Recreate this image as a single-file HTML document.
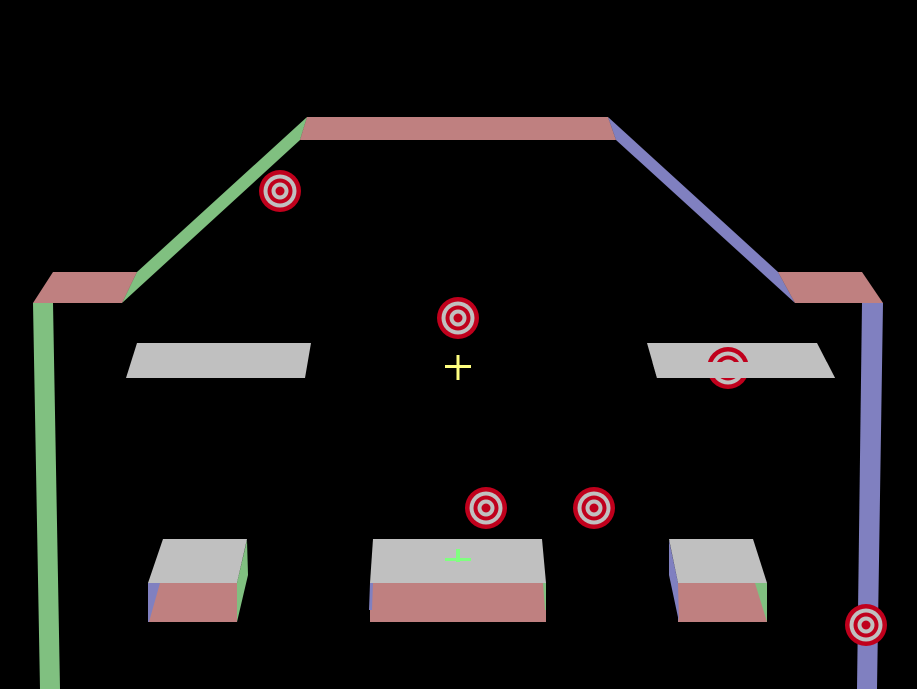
<!DOCTYPE html>
<html><head><style>html,body{margin:0;padding:0;background:#000;}svg{display:block}</style></head>
<body>
<svg width="917" height="689" viewBox="0 0 917 689" xmlns="http://www.w3.org/2000/svg">
<defs>
<g id="t">
<circle r="21" fill="#c0001c"/><circle r="16.5" fill="#c0c0c0"/><circle r="12.5" fill="#c0001c"/><circle r="8.5" fill="#c0c0c0"/><circle r="4.5" fill="#c0001c"/>
</g>
</defs>
<rect width="917" height="689" fill="#000"/>
<!-- frame -->
<polygon points="307,117 300,140 122,303 137,272" fill="#80c080"/>
<polygon points="307,117 608,117 616,140 300,140" fill="#bf8080"/>
<polygon points="608,117 616,140 795,303 778,272" fill="#8080c0"/>
<polygon points="53,272 137,272 122,303 33,303" fill="#bf8080"/>
<polygon points="778,272 862,272 883,303 795,303" fill="#bf8080"/>
<polygon points="33,303 53,303 60,689 40,689" fill="#80c080"/>
<polygon points="862,303 883,303 877,689 857,689" fill="#8080c0"/>
<!-- platforms -->
<polygon points="137,343 311,343 305,378 126,378" fill="#c0c0c0"/>
<polygon points="647,343 817,343 835,378 657,378" fill="#c0c0c0"/>
<!-- targets -->
<use href="#t" x="280" y="191"/>
<use href="#t" x="458" y="318"/>
<use href="#t" x="486" y="508"/>
<use href="#t" x="594" y="508"/>
<use href="#t" x="728" y="368"/>
<polygon points="652.4,362 826.8,362 835,378 657,378" fill="#c0c0c0"/>
<use href="#t" x="866" y="625"/>
<!-- crosshair -->
<rect x="445" y="365" width="26" height="3" fill="#ffff80"/>
<rect x="456.5" y="355" width="3" height="25" fill="#ffff80"/>
<!-- left box -->
<polygon points="163,539 247,539 237,583 148,583" fill="#c0c0c0"/>
<rect x="148" y="583" width="89" height="39" fill="#bf8080"/>
<polygon points="148,583 160,583 149,622 148,622" fill="#8080c0"/>
<polygon points="247,540 248,575 237,622 237,583" fill="#80c080"/>
<!-- middle box -->
<polygon points="373,539 542,539 546,583 370,583" fill="#c0c0c0"/>
<rect x="370" y="583" width="176" height="39" fill="#bf8080"/>
<polygon points="370,583 373,583 372,610 369,610" fill="#8080c0"/>
<polygon points="543,583 546,583 546,610 545,610" fill="#80c080"/>
<rect x="445" y="558" width="26" height="3" fill="#80ff80"/>
<rect x="456" y="549" width="4" height="13" fill="#80ff80"/>
<!-- right box -->
<polygon points="669,539 753,539 767,583 678,583" fill="#c0c0c0"/>
<rect x="678" y="583" width="89" height="39" fill="#bf8080"/>
<polygon points="755,583 767,583 767,622" fill="#80c080"/>
<polygon points="669,540 678,583 679,622 669,575" fill="#8080c0"/>
</svg>
</body></html>
